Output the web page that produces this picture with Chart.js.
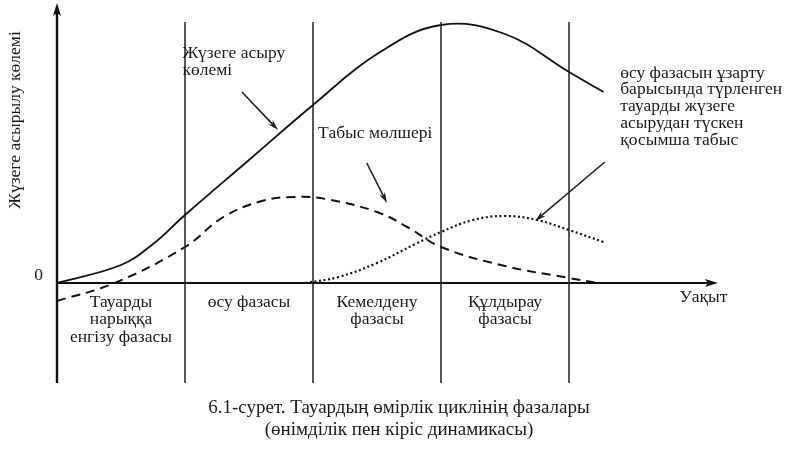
<!DOCTYPE html>
<html>
<head>
<meta charset="utf-8">
<script src="https://cdn.jsdelivr.net/npm/chart.js@4.4.1/dist/chart.umd.min.js"></script>
<style>
  html, body { margin: 0; padding: 0; background: #fff; }
  #wrap { width: 795px; height: 449px; }
</style>
</head>
<body>
<div id="wrap"><canvas id="plcChart"></canvas></div>
<script>
// уақыт осі: 1 бірлік = бір фаза
const phaseBounds = [1, 2, 3, 4];
const phaseLabels = [
  ['Тауарды', 'нарыққа', 'енгізу фазасы'],
  ['өсу фазасы'],
  ['Кемелдену', 'фазасы'],
  ['Құлдырау', 'фазасы']
];

// жүзеге асыру көлемі (тұтас сызық)
const salesTime = [0, 0.5, 0.75, 1.0, 1.5, 2.0, 2.5, 3.0, 3.5, 4.0, 4.27];
const salesVolume = [0, 1.8, 3.9, 6.8, 12.3, 17.8, 22.9, 25.8, 24.9, 21.1, 19.1];

// табыс мөлшері (штрих)
const profitTime = [0, 0.45, 1.0, 1.3, 1.6, 1.85, 2.1, 2.5, 2.75, 3.0, 3.5, 4.0, 4.22];
const profitValue = [-1.8, 0, 3.6, 6.6, 8.2, 8.6, 8.4, 7.1, 5.5, 3.6, 1.7, 0.5, 0];

// қосымша табыс (нүктелі)
const extraTime = [1.94, 2.2, 2.5, 2.8, 3.0, 3.25, 3.5, 3.75, 4.0, 4.27];
const extraValue = [0, 0.6, 2.0, 3.9, 5.1, 6.3, 6.7, 6.3, 5.3, 4.1];

const X_MAX = 5.164;
const Y_MIN = -10;
const Y_MAX = 28;
const SERIF = '"Liberation Serif", "DejaVu Serif", serif';

function pts(xs, ys) {
  return xs.map((x, i) => ({ x: x, y: ys[i] }));
}

function arrow(ctx, x1, y1, x2, y2) {
  const a = Math.atan2(y2 - y1, x2 - x1);
  const len = 11, w = 3.2;
  ctx.beginPath();
  ctx.moveTo(x1, y1);
  ctx.lineTo(x2 - Math.cos(a) * 6, y2 - Math.sin(a) * 6);
  ctx.stroke();
  ctx.beginPath();
  ctx.moveTo(x2, y2);
  ctx.lineTo(x2 - len * Math.cos(a) + w * Math.sin(a), y2 - len * Math.sin(a) - w * Math.cos(a));
  ctx.lineTo(x2 - len * Math.cos(a) * 0.7, y2 - len * Math.sin(a) * 0.7);
  ctx.lineTo(x2 - len * Math.cos(a) - w * Math.sin(a), y2 - len * Math.sin(a) + w * Math.cos(a));
  ctx.closePath();
  ctx.fill();
}

function lines(ctx, arr, x, y, step) {
  arr.forEach((t, i) => ctx.fillText(t, x, y + i * step));
}

const decor = {
  id: 'decor',
  beforeDatasetsDraw(chart) {
    const ctx = chart.ctx;
    const xs = chart.scales.x, ys = chart.scales.y;
    const X = v => xs.getPixelForValue(v);
    const Y = v => ys.getPixelForValue(v);
    ctx.save();
    ctx.strokeStyle = '#111';
    ctx.fillStyle = '#111';

    // фаза шекаралары
    ctx.lineWidth = 1.4;
    phaseBounds.forEach(b => {
      ctx.beginPath();
      ctx.moveTo(X(b), Y(26.1));
      ctx.lineTo(X(b), Y(Y_MIN));
      ctx.stroke();
    });

    // ордината осі
    ctx.lineWidth = 2.4;
    ctx.beginPath();
    ctx.moveTo(X(0), Y(Y_MIN));
    ctx.lineTo(X(0), Y(Y_MAX) + 4);
    ctx.stroke();
    ctx.beginPath();
    ctx.moveTo(X(0), Y(Y_MAX));
    ctx.lineTo(X(0) - 4, Y(Y_MAX) + 13);
    ctx.lineTo(X(0), Y(Y_MAX) + 10);
    ctx.lineTo(X(0) + 4, Y(Y_MAX) + 13);
    ctx.closePath();
    ctx.fill();

    // абсцисса осі
    ctx.lineWidth = 2;
    ctx.beginPath();
    ctx.moveTo(X(0), Y(0));
    ctx.lineTo(X(X_MAX) - 4, Y(0));
    ctx.stroke();
    ctx.beginPath();
    ctx.moveTo(X(X_MAX), Y(0));
    ctx.lineTo(X(X_MAX) - 13, Y(0) - 4);
    ctx.lineTo(X(X_MAX) - 10, Y(0));
    ctx.lineTo(X(X_MAX) - 13, Y(0) + 4);
    ctx.closePath();
    ctx.fill();
    ctx.restore();
  },
  afterDatasetsDraw(chart) {
    const ctx = chart.ctx;
    const xs = chart.scales.x, ys = chart.scales.y;
    const X = v => xs.getPixelForValue(v);
    const Y = v => ys.getPixelForValue(v);
    ctx.save();
    ctx.fillStyle = '#1a1a1a';
    ctx.strokeStyle = '#222';
    ctx.font = '17.5px ' + SERIF;
    ctx.textBaseline = 'middle';

    // фаза атаулары
    ctx.textAlign = 'center';
    phaseLabels.forEach((lab, i) => lines(ctx, lab, X(i + 0.5), Y(-1.9), 17.5));
    ctx.fillText('Уақыт', X(5.05), Y(-1.4));

    // "0"
    ctx.textAlign = 'right';
    ctx.fillText('0', X(0) - 14, Y(0.8));

    // қисықтардың белгілері
    ctx.textAlign = 'left';
    lines(ctx, ['Жүзеге асыру', 'көлемі'], X(0.98), Y(23.0), 17);
    ctx.fillText('Табыс мөлшері', X(2.04), Y(15.0));
    lines(ctx, ['өсу фазасын ұзарту', 'барысында түрленген', 'тауарды жүзеге',
      'асырудан түскен', 'қосымша табыс'], X(4.4), Y(21.0), 16.8);

    // көрсеткіштер
    ctx.lineWidth = 1.6;
    ctx.fillStyle = '#222';
    arrow(ctx, X(1.445), Y(19.1), X(1.727), Y(15.3));
    arrow(ctx, X(2.42), Y(12.0), X(2.578), Y(8.0));
    arrow(ctx, X(4.28), Y(12.1), X(3.735), Y(6.2));

    // ордината атауы
    ctx.fillStyle = '#1a1a1a';
    ctx.save();
    ctx.translate(15, Y(16.3));
    ctx.rotate(-Math.PI / 2);
    ctx.textAlign = 'center';
    ctx.fillText('Жүзеге асырылу көлемі', 0, 0);
    ctx.restore();

    // сурет атауы
    ctx.font = '19px ' + SERIF;
    ctx.textAlign = 'center';
    ctx.fillText('6.1-сурет. Тауардың өмірлік циклінің фазалары', 399, 408);
    ctx.fillText('(өнімділік пен кіріс динамикасы)', 399, 430);
    ctx.restore();
  }
};

new Chart(document.getElementById('plcChart'), {
  type: 'line',
  data: {
    datasets: [
      {
        label: 'Жүзеге асыру көлемі',
        data: pts(salesTime, salesVolume),
        borderColor: '#111',
        borderWidth: 1.8,
        pointRadius: 0,
        tension: 0.4
      },
      {
        label: 'Табыс мөлшері',
        data: pts(profitTime, profitValue),
        borderColor: '#111',
        borderWidth: 2,
        borderDash: [9, 6],
        pointRadius: 0,
        tension: 0.4
      },
      {
        label: 'Қосымша табыс',
        data: pts(extraTime, extraValue),
        borderColor: '#111',
        borderWidth: 2.2,
        borderDash: [2, 2.6],
        pointRadius: 0,
        tension: 0.4
      }
    ]
  },
  options: {
    responsive: true,
    maintainAspectRatio: false,
    animation: false,
    layout: { padding: { left: 57, right: 77, top: 3, bottom: 66 } },
    plugins: { legend: { display: false }, tooltip: { enabled: false } },
    scales: {
      x: { type: 'linear', min: 0, max: X_MAX, display: false },
      y: { type: 'linear', min: Y_MIN, max: Y_MAX, display: false }
    }
  },
  plugins: [decor]
});
</script>
</body>
</html>
